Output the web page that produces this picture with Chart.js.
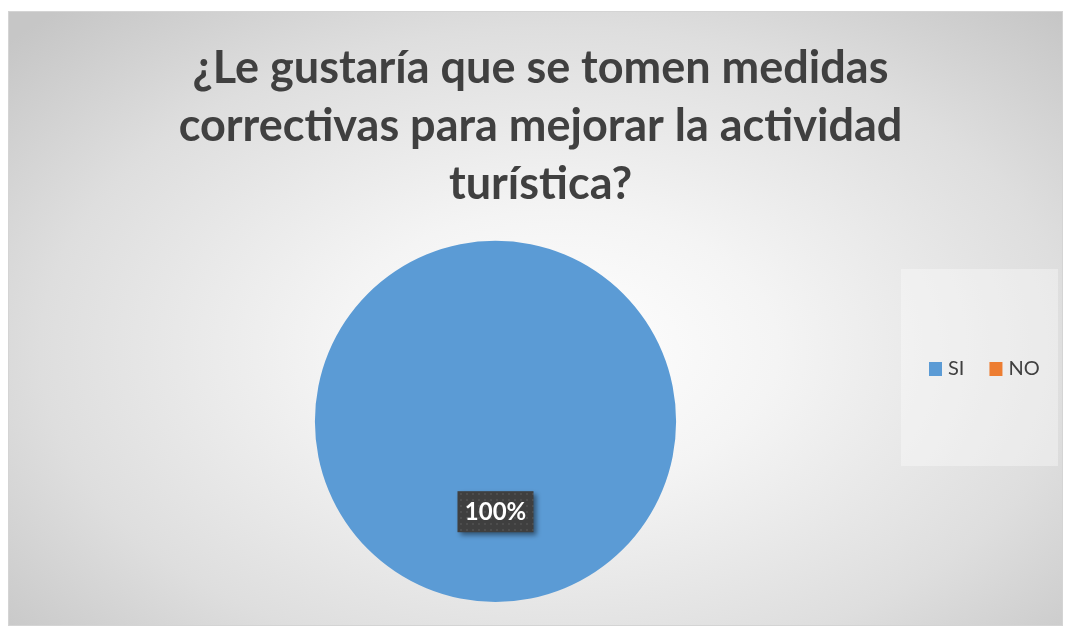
<!DOCTYPE html>
<html>
<head>
<meta charset="utf-8">
<script src="https://cdn.jsdelivr.net/npm/chart.js@4"></script>
<style>
  body { margin: 0; background: #fff; }
  #wrap {
    position: absolute; left: 8px; top: 11px; width: 1053px; height: 613px;
    border: 1px solid #d4d4d4;
    background: radial-gradient(ellipse 70% 75% at 52% 55%, #ffffff 0%, #f4f4f4 30%, #dedede 70%, #c6c6c6 100%);
  }
</style>
</head>
<body>
<div id="wrap"><canvas id="pieChart"></canvas></div>
<script>
const titleLines = ["¿Le gustaría que se tomen medidas", "correctivas para mejorar la actividad", "turística?"];
const labels = ["SI", "NO"];
const values = [100, 0];
const colors = ["#5B9BD5", "#ED7D31"];

// move the pie left of centre, like the original
const shiftArea = {
  id: "shiftArea",
  afterLayout(chart) {
    chart.chartArea.left -= 45;
    chart.chartArea.right -= 45;
  },
};

const legendBox = {
  id: "legendBox",
  afterDraw(chart) {
    const ctx = chart.ctx;
    ctx.save();
    ctx.fillStyle = "rgba(255,255,255,0.35)";
    ctx.fillRect(892, 257, 157, 197);
    ctx.font = "20px Lato";
    ctx.textBaseline = "middle";
    let x = 920;
    labels.forEach((lab, i) => {
      ctx.fillStyle = colors[i];
      ctx.fillRect(x, 350, 13, 14);
      ctx.fillStyle = "#404040";
      ctx.fillText(lab, x + 19, 357);
      x += 19 + ctx.measureText(lab).width + 25;
    });
    ctx.restore();
  },
};

function dotPattern(ctx) {
  const p = document.createElement("canvas");
  p.width = 6; p.height = 6;
  const pc = p.getContext("2d");
  pc.fillStyle = "#3f3f3f";
  pc.fillRect(0, 0, 6, 6);
  pc.fillStyle = "#4d4d4d";
  pc.fillRect(1, 1, 2, 2);
  return ctx.createPattern(p, "repeat");
}

const dataLabels = {
  id: "dataLabels",
  afterDatasetsDraw(chart) {
    const ctx = chart.ctx;
    const meta = chart.getDatasetMeta(0);
    const total = values.reduce((a, b) => a + b, 0);
    meta.data.forEach((arc, i) => {
      if (!values[i]) return;
      const pos = arc.tooltipPosition();
      const text = Math.round(values[i] / total * 100) + "%";
      ctx.save();
      ctx.font = "bold 24px Lato";
      const w = 76, h = 41;
      ctx.shadowColor = "rgba(0,0,0,0.45)";
      ctx.shadowBlur = 5;
      ctx.shadowOffsetX = 3;
      ctx.shadowOffsetY = 3;
      ctx.fillStyle = dotPattern(ctx);
      ctx.fillRect(pos.x - w / 2, pos.y - h / 2, w, h);
      ctx.shadowColor = "transparent";
      ctx.fillStyle = "#ffffff";
      ctx.textAlign = "center";
      ctx.textBaseline = "middle";
      ctx.fillText(text, pos.x, pos.y + 1);
      ctx.restore();
    });
  },
};

new Chart(document.getElementById("pieChart"), {
  type: "pie",
  data: {
    labels,
    datasets: [
      {
        data: values,
        backgroundColor: colors,
        borderWidth: 0,
      },
    ],
  },
  options: {
    responsive: true,
    maintainAspectRatio: false,
    animation: false,
    layout: { padding: { left: 10, right: 0, top: 0, bottom: 23 } },
    plugins: {
      legend: { display: false },
      tooltip: { enabled: false },
      title: {
        display: true,
        text: titleLines,
        color: "#404040",
        font: { family: "Lato", size: 45, weight: "bold", lineHeight: 1.28 },
        padding: { top: 28, bottom: 28 },
      },
    },
  },
  plugins: [shiftArea, legendBox, dataLabels],
});
</script>
</body>
</html>
